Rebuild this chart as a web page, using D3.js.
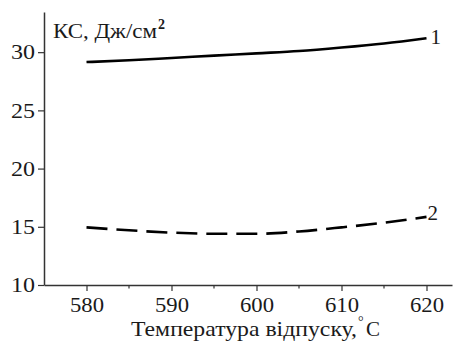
<!DOCTYPE html>
<html>
<head>
<meta charset="utf-8">
<script src="https://cdn.jsdelivr.net/npm/d3@7"></script>
<style>
    body { margin: 0; background: #fff; }
</style>
</head>
<body>
<svg id="chart"></svg>
<script>
const width = 453
const height = 349
const serif = "Liberation Serif"

const temps = [580, 585, 590, 595, 600, 605, 610, 615, 620]
const kc1 = [29.15, 29.3, 29.5, 29.7, 29.9, 30.1, 30.4, 30.75, 31.2]
const kc2 = [14.95, 14.7, 14.5, 14.4, 14.4, 14.6, 14.95, 15.35, 15.85]

const xTicks = [580, 590, 600, 610, 620]
const xMinorTicks = [585, 595, 605, 615]
const yTicks = [10, 15, 20, 25, 30]

const svg = d3.select("#chart")
    .attr("width", width)
    .attr("height", height)

const x = d3.scaleLinear().domain([575, 623]).range([44, 452])
const y = d3.scaleLinear().domain([10, 33.45]).range([285, 12])

const axisColor = "#333"
const textColor = "#1a1a1a"

// x axis
const xAxis = svg.append("g")
    .attr("transform", `translate(0, ${y(10)})`)
    .call(d3.axisBottom(x).tickValues(xTicks).tickSize(6).tickSizeOuter(0).tickPadding(6))
    .attr("font-family", serif)

xAxis.select(".domain").attr("stroke", axisColor).attr("stroke-width", 1.5)
xAxis.selectAll(".tick line").attr("stroke", axisColor).attr("stroke-width", 1.2)
xAxis.selectAll(".tick text")
    .attr("font-family", serif)
    .attr("font-size", 21)
    .attr("fill", textColor)
    .attr("textLength", 34)
    .attr("lengthAdjust", "spacingAndGlyphs")

svg.append("g")
    .attr("transform", `translate(0, ${y(10)})`)
    .selectAll("line")
    .data(xMinorTicks)
    .join("line")
    .attr("x1", d => x(d))
    .attr("x2", d => x(d))
    .attr("y1", 0)
    .attr("y2", 3.5)
    .attr("stroke", axisColor)
    .attr("stroke-width", 1.2)

// y axis
const yAxis = svg.append("g")
    .attr("transform", `translate(${x(575)}, 0)`)
    .call(d3.axisLeft(y).tickValues(yTicks).tickSize(6).tickSizeOuter(0).tickPadding(3))
    .attr("font-family", serif)

yAxis.select(".domain").attr("stroke", axisColor).attr("stroke-width", 1.5)
yAxis.selectAll(".tick line").attr("stroke", axisColor).attr("stroke-width", 1.2)
yAxis.selectAll(".tick text")
    .attr("font-family", serif)
    .attr("font-size", 21)
    .attr("fill", textColor)
    .attr("textLength", 24)
    .attr("lengthAdjust", "spacingAndGlyphs")

// curves
const line = d3.line()
    .x((d, i) => x(temps[i]))
    .y(d => y(d))
    .curve(d3.curveMonotoneX)

svg.append("path")
    .datum(kc1)
    .attr("d", line)
    .attr("fill", "none")
    .attr("stroke", "#000")
    .attr("stroke-width", 2.6)

svg.append("path")
    .datum(kc2)
    .attr("d", line)
    .attr("fill", "none")
    .attr("stroke", "#000")
    .attr("stroke-width", 2.6)
    .attr("stroke-dasharray", "21 9")

// curve labels
svg.append("text")
    .attr("x", x(620) + 4)
    .attr("y", y(kc1[kc1.length - 1]) + 6)
    .attr("font-family", serif)
    .attr("font-size", 21)
    .attr("fill", textColor)
    .text("1")

svg.append("text")
    .attr("x", x(620) + 1)
    .attr("y", y(kc2[kc2.length - 1]) + 3)
    .attr("font-family", serif)
    .attr("font-size", 21)
    .attr("fill", textColor)
    .text("2")

// axis titles
svg.append("text")
    .attr("x", 53)
    .attr("y", 38)
    .attr("font-family", serif)
    .attr("font-size", 21)
    .attr("fill", textColor)
    .attr("textLength", 104)
    .attr("lengthAdjust", "spacingAndGlyphs")
    .text("КС, Дж/см")

svg.append("text")
    .attr("x", 158)
    .attr("y", 29)
    .attr("font-family", serif)
    .attr("font-size", 14)
    .attr("font-weight", "bold")
    .attr("fill", textColor)
    .text("2")

svg.append("text")
    .attr("x", 131)
    .attr("y", 336)
    .attr("font-family", serif)
    .attr("font-size", 21)
    .attr("fill", textColor)
    .attr("textLength", 226)
    .attr("lengthAdjust", "spacingAndGlyphs")
    .text("Температура відпуску,")

svg.append("text")
    .attr("x", 358)
    .attr("y", 326)
    .attr("font-family", serif)
    .attr("font-size", 14)
    .attr("fill", textColor)
    .text("°")

svg.append("text")
    .attr("x", 366)
    .attr("y", 336)
    .attr("font-family", serif)
    .attr("font-size", 21)
    .attr("fill", textColor)
    .text("C")
</script>
</body>
</html>
